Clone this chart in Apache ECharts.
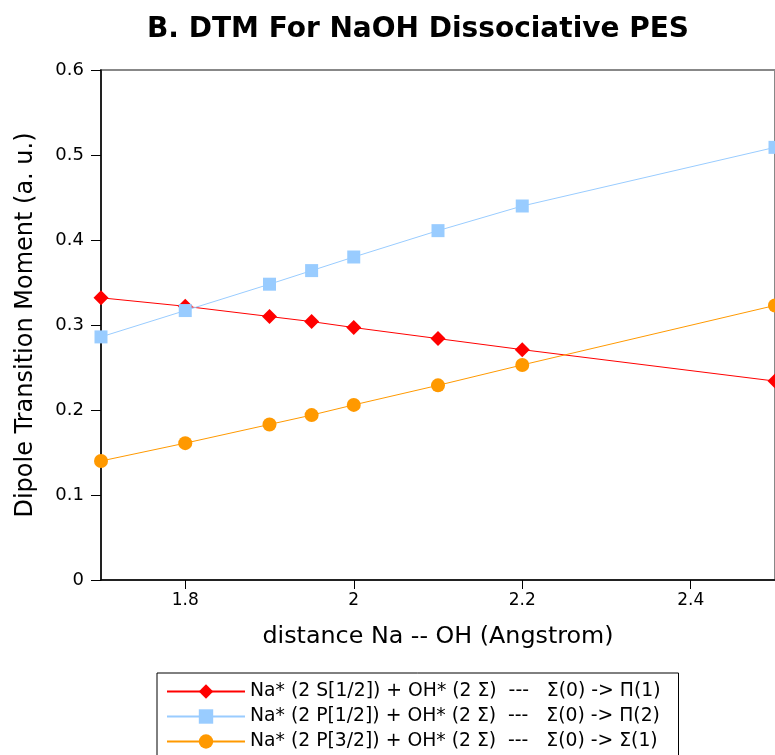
<!DOCTYPE html>
<html><head><meta charset="utf-8">
<script src="https://cdn.jsdelivr.net/npm/echarts@6/dist/echarts.min.js"></script>
<style>html,body{margin:0;padding:0;background:#fff}#c{width:775px;height:755px}</style>
</head><body><div id="c"></div>
<script>
const distances = [1.7, 1.8, 1.9, 1.95, 2.0, 2.1, 2.2, 2.5];
const pi1Values = [0.332, 0.322, 0.310, 0.304, 0.297, 0.284, 0.271, 0.234];
const pi2Values = [0.286, 0.317, 0.348, 0.364, 0.380, 0.411, 0.440, 0.509];
const sigma1Values = [0.140, 0.161, 0.183, 0.194, 0.206, 0.229, 0.253, 0.323];
const xTickLabels = [1.8, 2.0, 2.2, 2.4];
const seriesNames = [
  'Na* (2 S[1/2]) + OH* (2 Σ)  ---   Σ(0) -> Π(1)',
  'Na* (2 P[1/2]) + OH* (2 Σ)  ---   Σ(0) -> Π(2)',
  'Na* (2 P[3/2]) + OH* (2 Σ)  ---   Σ(0) -> Σ(1)'
];
const font = 'DejaVu Sans';
function pairs(v){ return distances.map((d,i)=>[d, v[i]]); }
const chart = echarts.init(document.getElementById('c'), null, {renderer:'canvas'});
chart.setOption({
  animation:false,
  backgroundColor:'#fff',
  title:{text:'B. DTM For NaOH Dissociative PES', left:413, textAlign:'center', top:11,
    textStyle:{fontFamily:font, fontSize:28, fontWeight:'bold', color:'#000'}},
  grid:{left:101, right:-6, top:70, bottom:175, show:true, borderColor:'#888', borderWidth:2},
  xAxis:{type:'value', min:1.7, max:2.5,
    name:'distance Na -- OH (Angstrom)', nameLocation:'middle', nameGap:45,
    nameTextStyle:{fontFamily:font, fontSize:23.8, color:'#000'},
    axisLine:{lineStyle:{color:'#000', width:1.5}},
    axisTick:{length:9, customValues:xTickLabels, lineStyle:{color:'#000'}},
    axisLabel:{customValues:xTickLabels, fontFamily:font, fontSize:17, color:'#000', margin:12,
      formatter:v=>String(Math.round(v*10)/10)},
    splitLine:{show:false}},
  yAxis:{type:'value', min:0, max:0.6, interval:0.1,
    name:'Dipole Transition Moment (a. u.)', nameLocation:'middle', nameGap:63,
    nameTextStyle:{fontFamily:font, fontSize:24, color:'#000'},
    axisLine:{lineStyle:{color:'#000', width:1.5}},
    axisTick:{length:10, lineStyle:{color:'#000'}},
    axisLabel:{fontFamily:font, fontSize:18, color:'#000', margin:17,
      formatter:v=>String(Math.round(v*10)/10)},
    splitLine:{show:false}},
  legend:{orient:'vertical', left:157, top:673, height:200, padding:[9,18,8,9], itemGap:6,
    itemWidth:78, itemHeight:18, borderColor:'#000', borderWidth:1,
    textStyle:{fontFamily:font, fontSize:18.8, lineHeight:18, color:'#000'},
    data:seriesNames},
  series:[
    {name:seriesNames[0], type:'line', data:pairs(pi1Values), symbol:'diamond', symbolSize:15,
      itemStyle:{color:'#ff0000'}, lineStyle:{color:'#ff0000', width:1}},
    {name:seriesNames[1], type:'line', data:pairs(pi2Values), symbol:'rect', symbolSize:13,
      itemStyle:{color:'#99ccff'}, lineStyle:{color:'#99ccff', width:1}},
    {name:seriesNames[2], type:'line', data:pairs(sigma1Values), symbol:'circle', symbolSize:14,
      itemStyle:{color:'#ff9900'}, lineStyle:{color:'#ff9900', width:1}}
  ]
});
</script></body></html>
